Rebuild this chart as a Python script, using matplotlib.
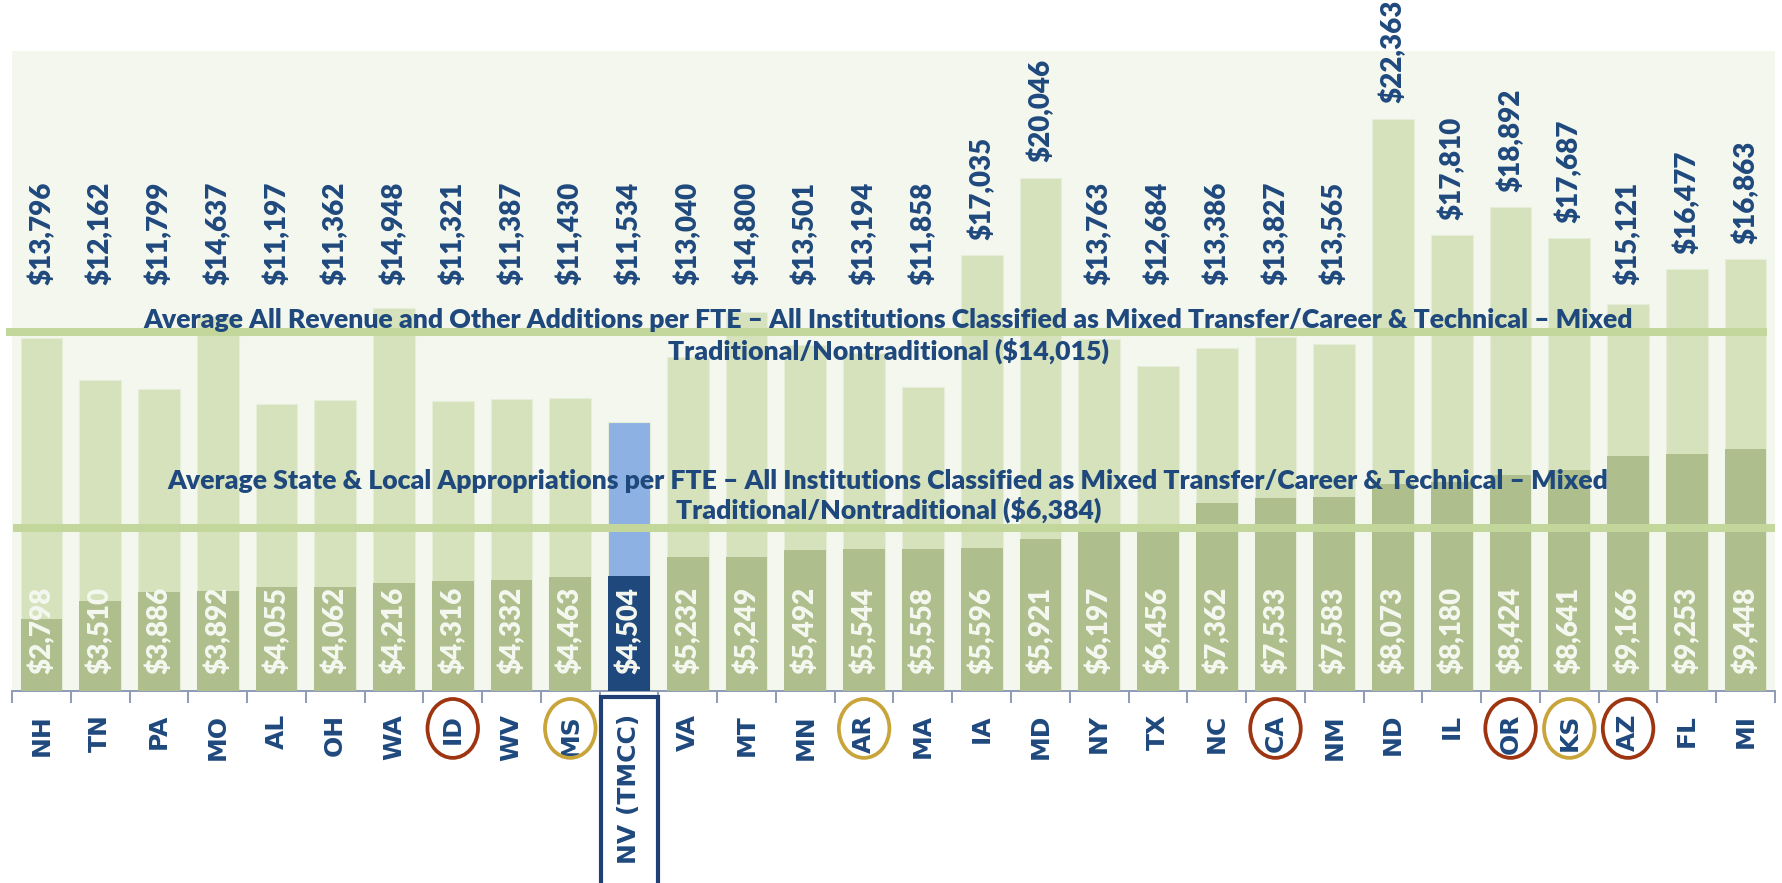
import matplotlib
matplotlib.use("Agg")
import matplotlib.pyplot as plt
from matplotlib.patches import Ellipse, Rectangle

states = ['NH', 'TN', 'PA', 'MO', 'AL', 'OH', 'WA', 'ID', 'WV', 'MS', 'NV (TMCC)',
          'VA', 'MT', 'MN', 'AR', 'MA', 'IA', 'MD', 'NY', 'TX', 'NC', 'CA', 'NM',
          'ND', 'IL', 'OR', 'KS', 'AZ', 'FL', 'MI']
revenue = [13796, 12162, 11799, 14637, 11197, 11362, 14948, 11321, 11387, 11430,
           11534, 13040, 14800, 13501, 13194, 11858, 17035, 20046, 13763, 12684,
           13386, 13827, 13565, 22363, 17810, 18892, 17687, 15121, 16477, 16863]
approp = [2798, 3510, 3886, 3892, 4055, 4062, 4216, 4316, 4332, 4463,
          4504, 5232, 5249, 5492, 5544, 5558, 5596, 5921, 6197, 6456,
          7362, 7533, 7583, 8073, 8180, 8424, 8641, 9166, 9253, 9448]
avg_revenue = 14015
avg_approp = 6384
highlight = 'NV (TMCC)'
highlight_bar_height = 10520   # drawn height of the highlighted revenue bar in the source
red_circled = ['ID', 'CA', 'OR', 'AZ']
gold_circled = ['MS', 'AR', 'KS']

rev_text = ("Average All Revenue and Other Additions per FTE \u2013 All Institutions Classified as "
            "Mixed Transfer/Career & Technical \u2013 Mixed\nTraditional/Nontraditional ($14,015)")
app_text = ("Average State & Local Appropriations per FTE \u2013 All Institutions Classified as "
            "Mixed Transfer/Career & Technical \u2013 Mixed\nTraditional/Nontraditional ($6,384)")

NAVY = '#1F497D'
BG = '#F4F7EE'
REV_C = '#D6E2BC'
APP_C = '#AEBE8C'
LINE_C = '#C3D69B'
NV_REV = '#8DB1E2'
NV_APP = '#1F497D'

W, H = 1783, 883
fig = plt.figure(figsize=(W / 100, H / 100), dpi=100)
fig.patch.set_facecolor('white')
ax = fig.add_axes([12 / W, 1 - 691 / H, (1775 - 12) / W, 640 / H])
ax.set_facecolor(BG)

x = list(range(len(states)))
rev_heights = [highlight_bar_height if s == highlight else v for s, v in zip(states, revenue)]
rev_colors = [NV_REV if s == highlight else REV_C for s in states]
app_colors = [NV_APP if s == highlight else APP_C for s in states]

ax.bar(x, rev_heights, width=0.71, color=rev_colors, edgecolor='#E6EDD8', linewidth=0.8, zorder=2)
ax.bar(x, approp, width=0.71, color=app_colors, linewidth=0, zorder=3)

ax.set_xlim(-0.5, len(states) - 0.5)
ax.set_ylim(0, 25000)

# average lines
ax.plot([-0.61, 29.36], [avg_revenue, avg_revenue], color=LINE_C, lw=5.8,
        solid_capstyle='butt', zorder=4, clip_on=False)
ax.plot([-0.48, 29.5], [avg_approp, avg_approp], color=LINE_C, lw=5.8,
        solid_capstyle='butt', zorder=4, clip_on=False)

ax.text(14.41, 13867, rev_text, ha='center', va='center', fontsize=19.2,
        family='Lato', fontweight='heavy', color=NAVY, linespacing=1.25, zorder=6)
ax.text(14.41, 7617, app_text, ha='center', va='center', fontsize=19.2,
        family='Lato', fontweight='heavy', color=NAVY, linespacing=1.2, zorder=6)

# value labels
for i, (r, a) in enumerate(zip(revenue, approp)):
    ax.text(i, max(r + 600, 15860), f"${r:,}", rotation=90, ha='center', va='bottom',
            fontsize=20, family='Lato', fontweight='heavy', color=NAVY, zorder=7,
            clip_on=False)
    ax.text(i, 650, f"${a:,}", rotation=90, ha='center', va='bottom',
            fontsize=20, family='Lato', fontweight='heavy', color='#F5F8F0', zorder=7)

# axes styling
for side in ['top', 'left', 'right']:
    ax.spines[side].set_visible(False)
ax.spines['bottom'].set_color('#8E9BB5')
ax.spines['bottom'].set_linewidth(1.4)
ax.set_yticks([])
ax.set_xticks(x)
ax.set_xticklabels(states, rotation=90, fontsize=18, fontweight='bold',
                   family='DejaVu Sans', color=NAVY)
ax.tick_params(axis='x', which='major', length=0, pad=16.5)
ax.set_xticks([i - 0.5 for i in range(len(states) + 1)], minor=True)
ax.tick_params(axis='x', which='minor', length=8.5, width=1.4, color='#8E9BB5')

# circles around state labels
xt = ax.get_xaxis_transform()
for s in red_circled + gold_circled:
    i = states.index(s)
    col = '#9E3510' if s in red_circled else '#C9A43A'
    ax.add_patch(Ellipse((i, -0.0585), 0.86, 0.092, transform=xt, fill=False,
                         edgecolor=col, lw=2.7, clip_on=False, zorder=8))

# box around highlighted label
i = states.index(highlight)
ax.add_patch(Rectangle((i - 0.485, -0.32), 0.97, 0.31, transform=xt, fill=False,
                       edgecolor='#1F3F75', lw=3, clip_on=False, zorder=8))

fig.savefig('out.png', dpi=100)
